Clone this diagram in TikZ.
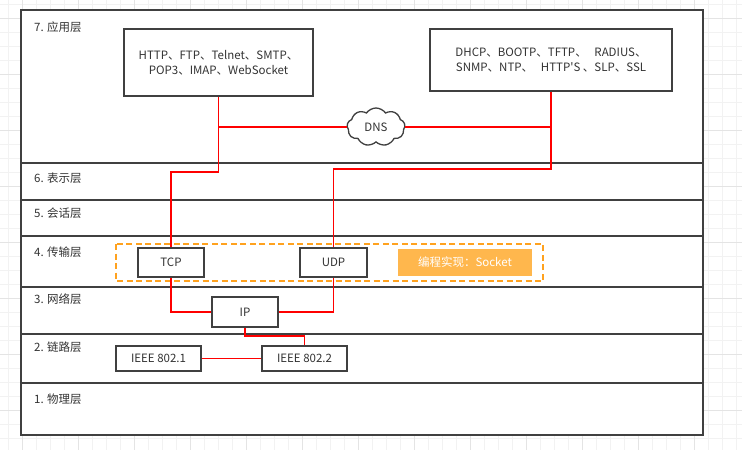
\documentclass[tikz,border=0pt]{standalone}
\usepackage{fontspec}
\setmainfont{Noto Sans CJK SC}
\usetikzlibrary{shapes.symbols}
\definecolor{framegray}{HTML}{404040}
\definecolor{textgray}{HTML}{333333}
\definecolor{sockline}{HTML}{FFA21F}
\definecolor{sockfill}{HTML}{FFB74D}
\definecolor{gridlo}{HTML}{F2F2F2}
\definecolor{gridhi}{HTML}{E4E4E4}

\begin{document}
\begin{tikzpicture}[x=1pt,y=-1pt,
    every node/.style={font=\fontsize{11.5}{15}\selectfont,text=textgray},
    layer/.style={draw=framegray,line width=1.6pt},
    proto/.style={draw=framegray,line width=1.4pt,fill=white,inner sep=0pt,align=center},
    link/.style={draw=red,line width=1.5pt},
  ]
    \useasboundingbox (0,0) rectangle (742,450);
    \fill[white] (0,0) rectangle (742,450);
    \foreach \x in {8,22,...,742} \draw[gridlo,line width=0.8pt] (\x,0) -- (\x,450);
    \foreach \y in {4,18,...,450} \draw[gridlo,line width=0.8pt] (0,\y) -- (742,\y);
    \foreach \x in {22,78,...,742} \draw[gridhi,line width=0.8pt] (\x,0) -- (\x,450);
    \foreach \y in {18,74,...,450} \draw[gridhi,line width=0.8pt] (0,\y) -- (742,\y);

    \fill[white] (21,10) rectangle (703,435);
    \foreach \y in {163,200,236,287,334,383}
      \draw[layer] (21,\y) -- (703,\y);
    \draw[layer] (21,10) rectangle (703,435);

    \foreach \y/\t [count=\i] in {27/7. 应用层, 178/6. 表示层, 213/5. 会话层,
      252/4. 传输层, 299/3. 网络层, 347/2. 链路层, 399/1. 物理层}
      \node (layer\i) at (34,\y) [anchor=west,inner sep=0pt] {\t};

    \draw[sockline,line width=1.5pt,dash pattern=on 6pt off 3.5pt] (116,244) rectangle (543,281);

    \node (http) at (218.5,62.5) [proto,minimum width=189,minimum height=67]
      {HTTP、FTP、Telnet、SMTP、\\POP3、IMAP、WebSocket};
    \node (dhcp) at (551,60) [proto,minimum width=242,minimum height=62]
      {DHCP、BOOTP、TFTP、\ \ \ RADIUS、\\SNMP、NTP、\ \ \ HTTP\textquotesingle S 、SLP、SSL};
    \node (dns) at (376,127) [cloud,cloud puffs=9,cloud puff arc=110,cloud ignores aspect,
      draw=framegray,line width=1.3pt,fill=white,minimum width=58,minimum height=38,inner sep=0pt] {DNS};
    \node (tcp) at (171,262.5) [proto,minimum width=66,minimum height=29] {TCP};
    \node (udp) at (333.5,262.5) [proto,minimum width=67,minimum height=29] {UDP};
    \node (sock) at (465,262.5) [fill=sockfill,text=white,minimum width=134,minimum height=27,inner sep=0pt]
      {编程实现：Socket};
    \node (ip) at (245,312) [proto,minimum width=66,minimum height=30] {IP};
    \node (ieeea) at (158.5,358.5) [proto,minimum width=85,minimum height=25] {IEEE 802.1};
    \node (ieeeb) at (304.5,358.5) [proto,minimum width=85,minimum height=25] {IEEE 802.2};

    \draw[link] (http.south) -- (http.south |- 0,172) -| (tcp.north);
    \draw[link] (http.south |- dns.west) -- (dns.west);
    \draw[link] (dhcp.south) -- (dhcp.south |- 0,169) -| (udp.north);
    \draw[link] (dns.east) -- (dhcp.south |- dns.east);
    \draw[link] (tcp.south) |- (ip.west);
    \draw[link] (udp.south) |- (ip.east);
    \draw[link] (ip.south) -- (ip.south |- 0,336) -| (ieeeb.north);
    \draw[link] (ieeea) -- (ieeeb);
  \end{tikzpicture}
\end{document}
